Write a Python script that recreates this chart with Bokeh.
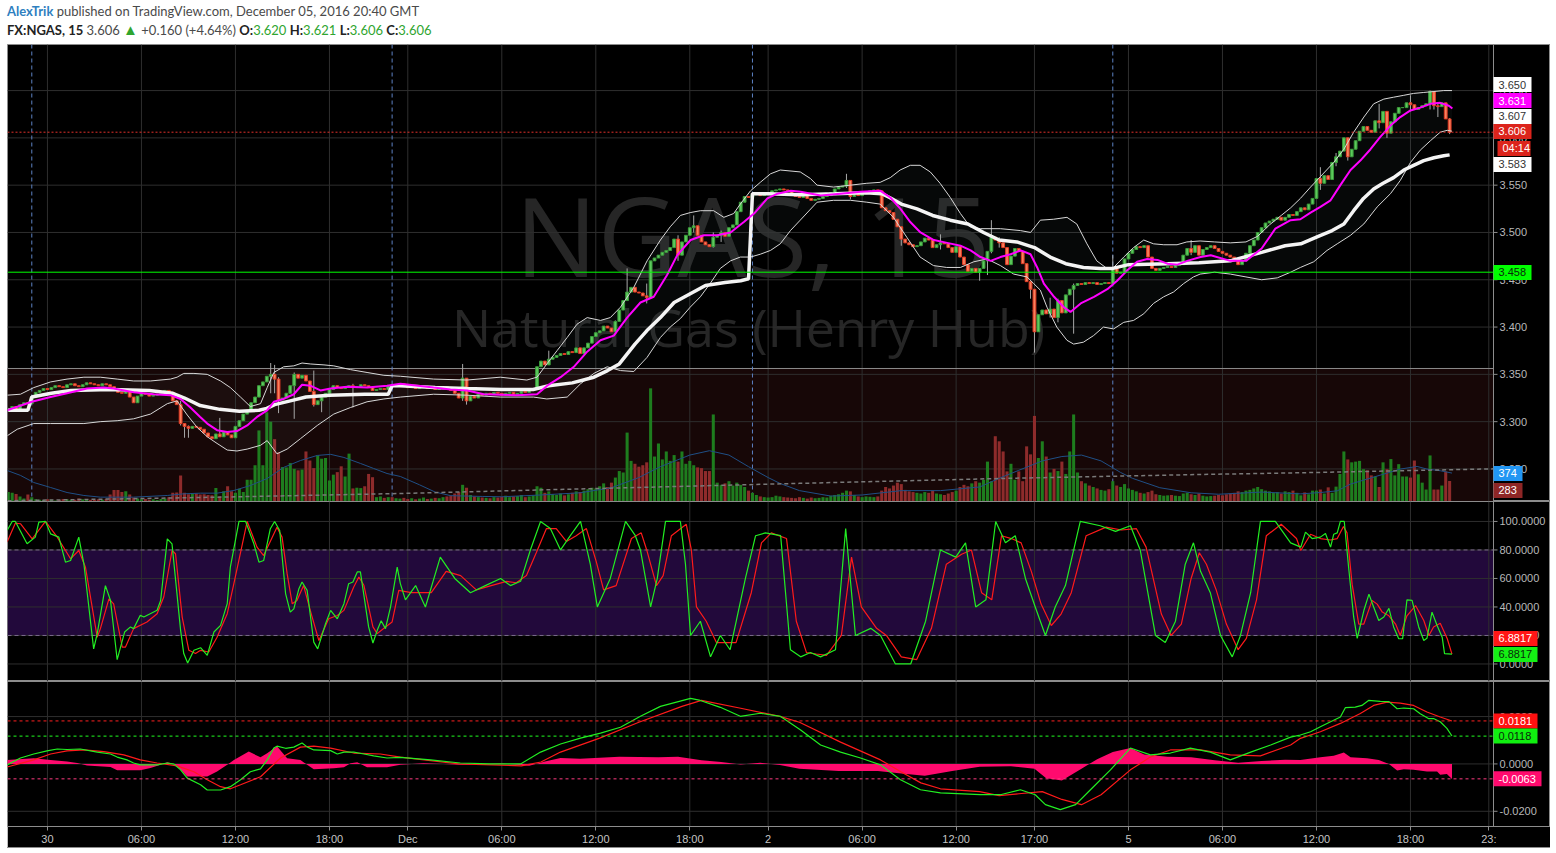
from bokeh.plotting import figure
from bokeh.models import (Range1d, FixedTicker, Span, BoxAnnotation, Label, ColumnDataSource, Div)
from bokeh.layouts import column
from bokeh.embed import file_html
from bokeh.resources import INLINE
from bokeh.core.properties import value

# ---------------- DATA (bar index: 15-min bars, 0 = Nov 29 23:00 session open) -------------
first_index = -6
first_open = 3.312
closes = [
 3.314, 3.316, 3.313, 3.318, 3.320, 3.319,
 3.326, 3.331, 3.333, 3.335, 3.334, 3.336, 3.338, 3.337, 3.336, 3.339,
 3.340, 3.338, 3.337, 3.339, 3.341, 3.340, 3.339, 3.338, 3.340, 3.339,
 3.337, 3.334, 3.331, 3.330, 3.332, 3.326, 3.320, 3.327, 3.330, 3.329,
 3.327, 3.328, 3.329, 3.331, 3.333, 3.331, 3.322, 3.318, 3.298, 3.295,
 3.293, 3.295, 3.294, 3.292, 3.288, 3.284, 3.282, 3.287, 3.284, 3.289,
 3.286, 3.283, 3.295, 3.301, 3.308, 3.312, 3.320, 3.326, 3.338, 3.342,
 3.348, 3.350, 3.345, 3.323, 3.325, 3.330, 3.338, 3.350, 3.346, 3.349,
 3.343, 3.332, 3.318, 3.322, 3.326, 3.330, 3.334, 3.338, 3.336, 3.335,
 3.337, 3.338, 3.336, 3.337, 3.339, 3.338, 3.336, 3.333, 3.334, 3.335,
 3.334, 3.338, 3.337, 3.339, 3.340, 3.338, 3.336, 3.337, 3.335, 3.336,
 3.337, 3.335, 3.336, 3.334, 3.335, 3.337, 3.336, 3.333, 3.330, 3.325,
 3.346, 3.322, 3.327, 3.325, 3.329, 3.328, 3.330, 3.329, 3.331, 3.330,
 3.328, 3.330, 3.331, 3.329, 3.330, 3.332, 3.331, 3.333, 3.334, 3.358,
 3.364, 3.360, 3.366, 3.368, 3.370, 3.372, 3.371, 3.374, 3.373, 3.378,
 3.372, 3.378, 3.383, 3.390, 3.394, 3.396, 3.401, 3.399, 3.395, 3.406,
 3.418, 3.428, 3.437, 3.442, 3.437, 3.436, 3.433, 3.431, 3.470, 3.473,
 3.476, 3.479, 3.481, 3.484, 3.493, 3.476, 3.490, 3.497, 3.505, 3.507,
 3.497, 3.490, 3.487, 3.485, 3.495, 3.497, 3.500, 3.496, 3.505, 3.508,
 3.522, 3.532, 3.538, 3.537, 3.540, 3.542, 3.539, 3.541, 3.542, 3.544,
 3.545, 3.546, 3.545, 3.544, 3.540, 3.538, 3.537, 3.539, 3.536, 3.534,
 3.535, 3.536, 3.538, 3.539, 3.542, 3.546, 3.548, 3.549, 3.555, 3.538,
 3.540, 3.539, 3.541, 3.543, 3.544, 3.545, 3.544, 3.526, 3.523, 3.521,
 3.514, 3.506, 3.493, 3.489, 3.487, 3.485, 3.486, 3.490, 3.494, 3.492,
 3.484, 3.487, 3.489, 3.488, 3.484, 3.479, 3.485, 3.474, 3.466, 3.459,
 3.462, 3.458, 3.462, 3.470, 3.480, 3.495, 3.492, 3.489, 3.484, 3.466,
 3.475, 3.483, 3.480, 3.467, 3.448, 3.440, 3.395, 3.413, 3.418, 3.414,
 3.419, 3.410, 3.428, 3.415, 3.434, 3.440, 3.444, 3.446, 3.445, 3.447,
 3.446, 3.447, 3.445, 3.446, 3.447, 3.446, 3.462, 3.457, 3.458, 3.472,
 3.478, 3.482, 3.485, 3.484, 3.486, 3.474, 3.462, 3.460, 3.462, 3.463,
 3.464, 3.463, 3.465, 3.466, 3.476, 3.483, 3.479, 3.486, 3.476, 3.482,
 3.484, 3.486, 3.483, 3.480, 3.478, 3.476, 3.474, 3.470, 3.466, 3.470,
 3.478, 3.486, 3.492, 3.500, 3.505, 3.510, 3.512, 3.514, 3.516, 3.513,
 3.516, 3.519, 3.518, 3.522, 3.526, 3.524, 3.530, 3.536, 3.557, 3.552,
 3.560, 3.556, 3.574, 3.580, 3.586, 3.600, 3.580, 3.588, 3.597, 3.607,
 3.612, 3.608, 3.606, 3.618, 3.616, 3.628, 3.605, 3.617, 3.626, 3.632,
 3.632, 3.637, 3.635, 3.630, 3.632, 3.634, 3.636, 3.649, 3.634, 3.633,
 3.637, 3.620, 3.606]

volumes = [
 130, 120, 105, 70, 40, 97,
 60, 30, 25, 20, 30, 25, 15, 20, 35, 30,
 20, 25, 40, 30, 35, 25, 20, 30, 25, 35,
 95, 160, 160, 130, 140, 95, 55, 40, 30, 35,
 25, 30, 20, 35, 40, 60, 120, 125, 360, 120,
 100, 105, 110, 95, 100, 90, 85, 185, 70, 140,
 210, 140, 120, 175, 130, 300, 300, 500, 980, 500,
 1230, 1100, 860, 680, 475, 470, 530, 450, 430, 440,
 690, 565, 460, 635, 590, 600, 290, 370, 405, 485,
 345, 660, 180, 190, 185, 210, 380, 335, 60, 70,
 50, 60, 60, 45, 40, 50, 35, 45, 30, 40,
 55, 35, 40, 50, 45, 60, 70, 80, 110, 130,
 230, 190, 90, 70, 60, 55, 50, 45, 60, 55,
 65, 80, 60, 70, 75, 90, 60, 70, 85, 210,
 190, 120, 140, 100, 90, 110, 85, 100, 120, 140,
 130, 150, 170, 190, 180, 210, 250, 200, 260, 330,
 420, 400, 950, 560, 520, 480, 500, 540, 1560, 620,
 800, 580, 690, 560, 640, 550, 690, 520, 560, 500,
 470, 460, 420, 420, 1200, 260, 230, 250, 280, 220,
 260, 230, 200, 150, 120, 90, 70, 60, 55, 60,
 80, 70, 60, 55, 50, 45, 60, 50, 40, 55,
 45, 50, 60, 55, 80, 90, 100, 120, 150, 140,
 90, 70, 60, 70, 65, 60, 70, 150, 200, 180,
 220, 260, 240, 160, 140, 130, 120, 110, 130, 120,
 150, 110, 100, 90, 110, 130, 150, 200, 230, 210,
 250, 280, 260, 300, 550, 280, 900, 830, 690, 415,
 520, 300, 415, 280, 760, 650, 1180, 600, 830, 620,
 400, 450, 420, 550, 380, 690, 1200, 400, 280, 250,
 220, 200, 180, 160, 150, 170, 280, 220, 200, 240,
 180, 160, 140, 120, 110, 130, 150, 100, 90, 80,
 85, 90, 80, 75, 110, 120, 100, 90, 110, 80,
 70, 75, 80, 90, 85, 100, 110, 120, 140, 130,
 150, 160, 180, 200, 170, 150, 140, 120, 130, 110,
 140, 130, 150, 120, 85, 125, 100, 150, 150, 165,
 110, 195, 120, 205, 380, 690, 580, 540, 550, 560,
 445, 430, 360, 345, 200, 540, 445, 585, 360, 515,
 345, 345, 330, 565, 375, 260, 165, 635, 165, 165,
 220, 415, 283]

# visible wicks: (bar index, high, low)
wicks = [(38, 3.322, 3.296), (39, 3.298, 3.283), (40, 3.296, 3.283), (48, 3.304, 3.284),
 (61, 3.362, 3.330), (62, 3.360, 3.330), (63, 3.347, 3.309), (67, 3.352, 3.303),
 (72, 3.354, 3.316), (74, 3.328, 3.310), (82, 3.340, 3.315), (110, 3.361, 3.322),
 (111, 3.346, 3.318), (132, 3.375, 3.360), (149, 3.407, 3.395), (152, 3.462, 3.428),
 (157, 3.446, 3.425), (165, 3.497, 3.470), (169, 3.518, 3.500), (174, 3.500, 3.484),
 (176, 3.502, 3.490), (208, 3.562, 3.547), (209, 3.555, 3.535), (222, 3.506, 3.486),
 (232, 3.498, 3.482), (242, 3.462, 3.449), (244, 3.470, 3.455), (245, 3.513, 3.478),
 (247, 3.495, 3.484), (255, 3.448, 3.430), (256, 3.440, 3.373), (260, 3.431, 3.410),
 (262, 3.430, 3.405), (266, 3.446, 3.393), (276, 3.476, 3.445), (296, 3.492, 3.476),
 (329, 3.569, 3.545), (333, 3.584, 3.570), (336, 3.600, 3.576), (344, 3.636, 3.610),
 (346, 3.628, 3.600), (352, 3.645, 3.628), (357, 3.650, 3.630), (358, 3.649, 3.630),
 (359, 3.637, 3.622), (362, 3.621, 3.604)]

# indicator lines: (bar index, value)
magenta_ma = [(-6.3, 3.312), (0, 3.321), (4.8, 3.326), (9, 3.330), (14.1, 3.335), (18.4, 3.336),
 (20.9, 3.335), (26, 3.331), (31.1, 3.329), (35.4, 3.328), (38, 3.324), (40.5, 3.315), (43, 3.305),
 (44.8, 3.298), (47.3, 3.291), (49.9, 3.289), (52.4, 3.290), (55, 3.296), (57.5, 3.305), (60.1, 3.312),
 (61.8, 3.321), (64.3, 3.324), (66.9, 3.329), (69, 3.339), (71.1, 3.338), (73.7, 3.333), (76.3, 3.335),
 (80.5, 3.337), (85.6, 3.336), (90.7, 3.338), (94.1, 3.340), (102.6, 3.336), (106.9, 3.334),
 (111.2, 3.333), (115.4, 3.329), (123.9, 3.328), (129, 3.329), (131.6, 3.338), (135, 3.347),
 (138.4, 3.358), (141.8, 3.374), (145.2, 3.386), (148.6, 3.391), (152, 3.410), (155.4, 3.426),
 (158.8, 3.432), (162.2, 3.455), (164.8, 3.476), (168.2, 3.492), (171.6, 3.497), (175, 3.497),
 (178.4, 3.500), (181.8, 3.511), (184.4, 3.520), (187.8, 3.536), (190.4, 3.541), (193.8, 3.544),
 (196.3, 3.543), (201.4, 3.539), (206.5, 3.541), (211.6, 3.543), (216.7, 3.544), (219.2, 3.537),
 (221.8, 3.525), (224.3, 3.511), (226.9, 3.500), (230.3, 3.492), (233.7, 3.489), (237.1, 3.486),
 (239.7, 3.481), (242.2, 3.474), (244.8, 3.470), (247.3, 3.474), (249.9, 3.477), (252.5, 3.481),
 (255, 3.477), (256.7, 3.463), (258.4, 3.446), (261, 3.432), (263.5, 3.421), (265.2, 3.416),
 (267.8, 3.425), (271.2, 3.432), (274.6, 3.440), (277.1, 3.449), (279.7, 3.460), (282.2, 3.469),
 (284.8, 3.472), (287.4, 3.471), (289.9, 3.467), (292.5, 3.466), (295, 3.470), (298.4, 3.474),
 (301, 3.476), (306, 3.470), (310, 3.470), (314, 3.483), (317.5, 3.504), (321.4, 3.513),
 (323.9, 3.514), (326.5, 3.521), (329, 3.527), (331.6, 3.534), (334.1, 3.550), (336.7, 3.566),
 (339.2, 3.576), (341.8, 3.588), (344.3, 3.601), (346.9, 3.613), (349.4, 3.622), (352, 3.629),
 (354.5, 3.632), (357.1, 3.636), (359.6, 3.637), (361.8, 3.634), (362.7, 3.631)]

bb_upper = [(-6.3, 3.328), (-2.9, 3.329), (0.5, 3.336), (4.8, 3.342), (9, 3.345), (13.3, 3.347),
 (17.5, 3.347), (21.8, 3.345), (26, 3.343), (30.3, 3.343), (35.4, 3.345), (37.1, 3.347),
 (38.8, 3.351), (41.4, 3.351), (44.8, 3.350), (48.2, 3.343), (50.7, 3.336), (53.3, 3.326),
 (55.8, 3.316), (58.4, 3.319), (60.1, 3.336), (61.8, 3.352), (64.3, 3.358), (66.9, 3.359),
 (69, 3.362), (71.1, 3.361), (74.6, 3.360), (77.1, 3.359), (81.4, 3.355), (85.6, 3.352),
 (89.9, 3.349), (94.1, 3.348), (102.6, 3.345), (111.1, 3.344), (119.6, 3.347), (126.4, 3.344),
 (129, 3.347), (131.5, 3.361), (134.1, 3.375), (136.7, 3.389), (139.2, 3.403), (141.8, 3.410),
 (145.2, 3.407), (147.7, 3.410), (150.3, 3.421), (153.7, 3.442), (157.1, 3.470), (160.5, 3.492),
 (163, 3.506), (165.6, 3.518), (168.1, 3.521), (170.7, 3.523), (174.1, 3.523), (176.7, 3.516),
 (179.2, 3.520), (180.9, 3.530), (183.5, 3.544), (186, 3.553), (188.6, 3.562), (191.1, 3.566),
 (196.2, 3.564), (198.8, 3.557), (200.5, 3.550), (204.7, 3.548), (209, 3.550), (213.2, 3.552),
 (216.6, 3.553), (219.2, 3.558), (221.7, 3.566), (224.3, 3.571), (226.8, 3.571), (229.4, 3.564),
 (231.9, 3.552), (234.5, 3.537), (237.1, 3.520), (239.6, 3.506), (242.2, 3.504), (247.3, 3.504),
 (252.4, 3.502), (255, 3.500), (257.5, 3.513), (260.9, 3.514), (264.3, 3.516), (266.8, 3.509),
 (269.4, 3.488), (271.9, 3.470), (274.5, 3.462), (276.2, 3.463), (278.8, 3.474), (281.3, 3.484),
 (283.9, 3.492), (286.4, 3.488), (289, 3.487), (292.4, 3.487), (294.9, 3.490), (298.3, 3.491),
 (302, 3.490), (306, 3.489), (310, 3.490), (313, 3.496), (316, 3.508), (319, 3.518),
 (321.4, 3.526), (323.9, 3.536), (326.5, 3.548), (329, 3.559), (332.4, 3.574), (335, 3.588),
 (337.5, 3.606), (340.1, 3.622), (342.6, 3.636), (345.2, 3.641), (347.7, 3.643), (350.3, 3.645),
 (352.8, 3.647), (355.4, 3.648), (358, 3.649), (360.5, 3.650), (362.6, 3.650)]

bb_lower = [(-6.3, 3.285), (-3.7, 3.292), (0.5, 3.298), (4.8, 3.298), (13.3, 3.298), (17.5, 3.300),
 (21.8, 3.301), (26, 3.303), (30.3, 3.308), (34.6, 3.319), (37.1, 3.322), (39.7, 3.307),
 (42.2, 3.294), (44.8, 3.284), (47.3, 3.277), (49.9, 3.270), (52.4, 3.269), (55, 3.271),
 (58.4, 3.275), (60.1, 3.280), (62.6, 3.266), (65.2, 3.271), (68.6, 3.282), (72.9, 3.296),
 (77.1, 3.308), (81.4, 3.315), (85.6, 3.321), (89.9, 3.324), (94.1, 3.326), (102.6, 3.329),
 (111.1, 3.328), (119.6, 3.326), (128.1, 3.326), (131.5, 3.324), (136.7, 3.326), (140.1, 3.340),
 (143.5, 3.351), (146.9, 3.358), (150.3, 3.354), (153.7, 3.353), (157.1, 3.368), (160.5, 3.389),
 (163, 3.400), (165.6, 3.409), (168.1, 3.421), (170.7, 3.432), (173.2, 3.446), (175.8, 3.462),
 (178.4, 3.470), (180.9, 3.474), (183.5, 3.474), (186, 3.477), (188.6, 3.481), (191.1, 3.488),
 (193.7, 3.502), (196.2, 3.513), (200.5, 3.532), (204.7, 3.534), (209, 3.534), (213.2, 3.532),
 (216.6, 3.530), (220, 3.516), (223.4, 3.495), (226.8, 3.474), (230.2, 3.465), (233.6, 3.463),
 (237.1, 3.463), (240.5, 3.469), (243.9, 3.472), (247.3, 3.465), (250.7, 3.456), (254.1, 3.453),
 (255.8, 3.446), (257.5, 3.439), (259.2, 3.421), (261.7, 3.400), (264.3, 3.386), (266, 3.382),
 (268.5, 3.384), (271.1, 3.391), (273.6, 3.400), (276.2, 3.398), (278.8, 3.405), (281.3, 3.407),
 (283.9, 3.414), (286.4, 3.425), (289, 3.432), (291.5, 3.437), (294.1, 3.446), (296.6, 3.453),
 (298.3, 3.456), (302, 3.458), (306, 3.456), (310, 3.453), (314, 3.450), (318, 3.452),
 (321.4, 3.458), (323.9, 3.463), (327.3, 3.469), (330.7, 3.481), (333.3, 3.488), (336.7, 3.497),
 (340.1, 3.509), (343.5, 3.527), (346.9, 3.541), (349.4, 3.555), (352, 3.574), (354.5, 3.587),
 (357.1, 3.597), (359.6, 3.606), (361.4, 3.608), (362.6, 3.607)]

vwap = [(-6, 3.312), (-1, 3.312), (0, 3.326), (5, 3.330), (10, 3.333), (20, 3.334), (30, 3.333),
 (36, 3.330), (39, 3.325), (43, 3.317), (48, 3.313), (53, 3.311), (58, 3.312), (60, 3.314),
 (62, 3.318), (66, 3.322), (70, 3.326), (76, 3.328), (85, 3.329), (91, 3.329),
 (92, 3.338), (94, 3.338), (103, 3.336), (111, 3.335), (120, 3.334), (128, 3.334), (132, 3.338),
 (138, 3.341), (143.5, 3.347), (147, 3.354), (150, 3.361), (154, 3.382), (157, 3.396),
 (160.5, 3.410), (164, 3.426), (168, 3.435), (172, 3.444), (177, 3.447), (181, 3.449), (183, 3.451),
 (184, 3.541), (188, 3.541), (196, 3.540), (205, 3.541), (213, 3.542), (217, 3.541), (219, 3.537),
 (222, 3.530), (226, 3.525), (230, 3.518), (234.5, 3.513), (239, 3.509), (243, 3.500),
 (247, 3.492), (251.5, 3.490), (256, 3.484), (260, 3.474), (264, 3.467), (268.5, 3.463),
 (272.8, 3.462), (275, 3.462),
 (276, 3.462), (280, 3.466), (290, 3.467), (298, 3.468), (306, 3.470), (314, 3.479), (320, 3.486),
 (324, 3.488), (328, 3.495), (332, 3.502), (335, 3.509), (337.5, 3.523), (340, 3.536),
 (342.6, 3.546), (345, 3.552), (347.7, 3.558), (350.3, 3.566), (352.8, 3.571), (355.4, 3.576),
 (358, 3.579), (360.5, 3.581), (362, 3.582)]

vol_ma = [(-6.3, 428), (-2.9, 360), (0.5, 262), (4.8, 193), (9, 124), (13.3, 83), (17.5, 60),
 (26, 60), (34.6, 83), (38.8, 106), (43.1, 115), (47.3, 115), (51.6, 152), (55.8, 220),
 (60.1, 317), (64.3, 470), (68.6, 565), (72.9, 635), (76.3, 650), (79.7, 607), (83.9, 525),
 (87.3, 455), (90.7, 386), (94.1, 345), (99, 230), (103, 130), (107, 80), (115, 70), (120, 65),
 (130, 90), (140, 120), (148, 190), (155, 330), (160.5, 480), (168, 640), (173, 700), (178, 640),
 (183, 480), (188, 330), (191, 250), (196, 150), (204, 75), (212, 90), (222, 150), (232, 150),
 (242, 200), (247, 320), (252, 430), (258, 560), (263, 620), (268, 640), (273, 560), (278, 400),
 (281, 320), (288, 190), (296, 120), (303, 100), (314, 130), (324, 105), (329, 124), (333.3, 147),
 (336.7, 240), (340.9, 309), (345.2, 378), (349.4, 447), (353.7, 483), (356.2, 447), (359.6, 424),
 (362.6, 392)]

vol_avg_long = [(-6.2, 10), (43, 55), (94, 110), (145, 180), (196, 250), (247, 317), (298, 372),
 (324, 396), (373.2, 450)]

stoch_k = [(-6.3, 93.7), (-5, 100), (-4.2, 100), (-1.2, 84.3), (0.9, 89), (1.8, 99.5), (3.5, 100),
 (4.8, 91.3), (6.9, 89), (8.6, 71.4), (9.9, 72.6), (12, 89), (13.3, 70.3), (15.8, 10.6),
 (16.7, 21.1), (18.8, 55), (20.1, 44.5), (21.8, 3), (23.7, 22.4), (25.2, 26), (26, 24.8),
 (27.7, 34.2), (28.6, 33), (32, 37.7), (32.9, 44.5), (34.6, 87.8), (35.8, 84.3), (38, 23.6),
 (38.8, 7.3), (39.8, 0.7), (41.4, 9.6), (43.1, 11.4), (44.8, 6.1), (46.5, 22.4), (48.2, 27.1),
 (49.9, 42.3), (50.7, 68), (52.9, 100), (54.6, 100), (56.7, 84.3), (58, 71.4), (59.2, 72.6),
 (60.9, 94.9), (62, 100), (63.3, 93.7), (64.8, 49.4), (66, 36.4), (66.9, 38.7), (68.2, 52.8),
 (69, 57.5), (70.3, 51.6), (72, 15.3), (73, 10.6), (75, 28.2), (76.3, 37.6), (78, 31.7),
 (79.7, 42.3), (80.9, 56.3), (82, 57.5), (83.1, 64.6), (83.9, 64.6), (86, 26), (87.1, 14.7),
 (88.2, 23.6), (89.2, 30.3), (90.3, 24.8), (91.6, 40), (93.3, 68), (94.1, 56.4),
 (95.4, 45), (98, 55), (100.5, 40), (104.3, 75), (108, 60), (112, 50), (115.8, 55), (119.7, 60),
 (122.2, 55), (124.8, 58), (127.3, 80), (129.9, 100), (132.4, 95), (135, 80), (137.5, 90),
 (140.1, 100), (142.6, 70), (144.4, 40), (147.7, 60), (151.6, 100), (154.1, 90), (155.4, 80),
 (158, 40), (159.7, 60), (161.8, 100), (165.6, 100), (166.9, 70), (168.2, 20), (170.7, 30),
 (173.3, 5), (175.8, 20), (178.3, 10), (182.2, 60), (184.8, 90), (187.3, 92), (191.2, 90),
 (193.7, 10), (196.3, 5), (198.8, 8), (201.4, 5), (205.2, 10), (207.8, 95), (210.3, 20),
 (214.2, 25), (216.7, 20), (220.5, 0), (224.4, 0), (228.2, 30), (232, 80), (235.9, 75),
 (238.4, 85), (241, 40), (243.6, 45), (246.1, 100), (248.6, 85), (251.1, 90), (253.7, 60),
 (256.2, 40), (258.8, 20), (261.3, 40), (263.9, 55), (267.7, 100), (272.8, 97), (276.7, 93),
 (280.5, 97), (283, 80), (286.9, 20), (289.4, 15), (292, 30), (294.5, 70), (296.6, 85),
 (298.4, 65), (300.9, 50), (303.5, 20), (306.5, 5), (308.6, 20), (311.2, 50), (313.7, 100),
 (317.5, 100), (321.4, 85), (324, 82), (325.2, 92.5), (326.9, 88), (329, 89), (330.3, 91.5),
 (331.6, 82), (332.4, 91), (333.3, 92), (334.1, 100), (335.1, 100), (336.2, 68), (337.5, 33),
 (338.4, 18), (339.2, 27), (340.1, 37.5), (341.4, 49), (342.6, 40), (343.9, 30.5), (345.2, 33),
 (346.5, 39), (347.7, 26), (349, 17.7), (350, 17.7), (351.1, 45), (352.4, 44.6), (354.1, 26),
 (355.4, 16.5), (356.2, 18), (357.5, 36.4), (358.8, 27), (360.1, 18.8), (360.7, 7.2), (362.6, 6.9)]

stoch_d = [(-6.3, 85.5), (-4.2, 98.8), (-2.9, 98.4), (0.1, 87.8), (3.5, 100), (6.5, 89), (9.9, 73.8),
 (12, 79.6), (13.7, 67.9), (16.7, 18.8), (17.5, 24.6), (19.7, 45.7), (20.9, 42.2), (23.1, 11.8),
 (23.9, 11.8), (26, 24.8), (29.4, 29.5), (32, 35.3), (33.7, 47), (35.8, 79.6), (36.7, 77.3),
 (38.4, 32.9), (40.1, 9.6), (41.8, 7.3), (43.1, 9.6), (45.2, 8.4), (47.3, 18.8), (49.9, 35.3),
 (51.6, 56.4), (55, 100), (57.5, 82), (59.2, 76.1), (62.6, 96), (63.9, 89), (65.2, 63.2),
 (66.5, 42.2), (67.7, 44.5), (69.4, 55), (71.1, 37.6), (73.3, 16.4), (75.8, 31.7), (78, 34),
 (79.7, 37.6), (82.2, 54), (83.5, 61), (84.8, 55.2), (87.1, 26), (88.2, 21.3), (90.3, 26),
 (92, 29.5), (93.7, 51.7),
 (96.9, 50), (99.5, 50), (102, 50), (105.8, 65), (109.5, 62), (113.5, 52), (117.3, 55),
 (121.2, 58), (123.7, 57), (126.3, 62), (128.8, 78), (131.4, 95), (133.9, 95), (136.5, 86),
 (139, 90), (141.6, 95), (144.1, 72), (146, 52), (149.2, 55), (153.1, 88), (155.6, 92),
 (157, 80), (159.5, 55), (161.2, 62), (163.3, 90), (167.1, 98), (168.4, 80), (169.7, 40),
 (172.2, 30), (174.8, 15), (177.3, 15), (179.8, 15), (183.7, 50), (186.3, 85), (188.8, 92),
 (192.7, 88), (195.2, 30), (197.8, 8), (200.3, 7), (202.9, 6), (206.7, 20), (209.3, 75),
 (211.8, 40), (215.7, 25), (218.2, 20), (222, 5), (225.9, 3), (229.7, 25), (233.5, 70),
 (237.4, 77), (239.9, 80), (242.5, 50), (245.1, 45), (247.6, 90), (250.1, 88), (252.6, 85),
 (255.2, 65), (257.7, 42), (260.3, 27), (262.8, 35), (265.4, 50), (269.2, 90), (274.3, 96),
 (278.2, 94), (282, 95), (284.5, 82), (288.4, 35), (290.9, 20), (293.5, 28), (296, 60),
 (298.1, 78), (299.9, 70), (302.4, 52), (305, 28), (308, 10), (310.1, 18), (312.7, 45),
 (315.2, 90), (319, 98), (322.9, 88),
 (324, 79.6), (326.5, 91), (329, 88), (331.6, 87), (333.3, 88), (334.9, 96.5), (335.8, 92),
 (337.1, 56), (338.8, 28), (340.1, 28), (342.2, 44.6), (343.5, 42), (344.8, 36.4), (346.5, 33.8),
 (348.2, 28), (349.4, 20), (351.1, 33.8), (353.3, 41), (355.4, 30.5), (356.7, 20), (357.9, 26),
 (359.6, 28.6), (361.4, 17.7), (362.6, 6.9)]

macd_line = [(-6.3, -0.0004), (-2.9, 0.0025), (0.5, 0.0042), (3.9, 0.0055), (6.5, 0.0063),
 (9, 0.0061), (12.4, 0.0063), (16.7, 0.0050), (20.1, 0.0042), (21.8, 0.0029), (24.3, 0.0017),
 (26, 0.0004), (27.7, -0.0004), (32, -0.0004), (34.6, 0.0004), (36.3, -0.0001), (38, -0.0025),
 (39.7, -0.0060), (43.1, -0.0088), (44.8, -0.0110), (48.2, -0.0110), (50.7, -0.0096),
 (53.3, -0.0067), (55.8, -0.0033), (58.4, -0.0021), (60.1, 0.0017), (61.8, 0.0067),
 (62.6, 0.0075), (64.8, 0.0066), (66.9, 0.0071), (69, 0.0088), (70.3, 0.0072), (72, 0.0059),
 (76.3, 0.0056), (78, 0.0042), (79.7, 0.0050), (82.2, 0.0050), (84.8, 0.0042), (87.3, 0.0034),
 (90.7, 0.0025), (94.1, 0.0028), (101.8, 0.0017), (109.4, 0.0004), (117.1, 0.0), (124.8, 0.0),
 (129.9, 0.0050), (135, 0.0084), (140.1, 0.0109), (145.2, 0.0130), (150.3, 0.0155),
 (155.4, 0.0201), (160.5, 0.0243), (168.2, 0.0277), (170.7, 0.0268), (175.8, 0.0239),
 (180.9, 0.0201), (186, 0.0214), (191.1, 0.0201), (196.3, 0.0143), (201.4, 0.0080),
 (206.5, 0.0050), (211.6, 0.0025), (216.7, -0.0004), (221.8, -0.0067), (226.9, -0.0109),
 (232, -0.0122), (242.2, -0.0130), (247.3, -0.0130), (252.4, -0.0109), (256.2, -0.0130),
 (258.8, -0.0172), (262.6, -0.0193), (266.5, -0.0172), (270.3, -0.0109), (275.4, -0.0025),
 (280.5, 0.0067), (285.6, 0.0038), (290.7, 0.0046), (295.8, 0.0067), (300.9, 0.0050),
 (306, 0.0017), (311.2, 0.0050), (316.3, 0.0080), (321.4, 0.0113), (323.9, 0.0122),
 (326.5, 0.0136), (329, 0.0157), (331.6, 0.0178), (334.1, 0.0198), (335.4, 0.0238),
 (337.9, 0.0240), (339.6, 0.0247), (341.3, 0.0268), (344.3, 0.0264), (346.5, 0.0263),
 (348.6, 0.0233), (350.3, 0.0236), (352.8, 0.0233), (354.5, 0.0212), (356.7, 0.0191),
 (358, 0.0191), (359.6, 0.0178), (361.3, 0.0150), (362.6, 0.0118)]

macd_signal = [(-6.3, -0.0013), (0.5, 0.0017), (4.8, 0.0042), (9, 0.0055), (13.3, 0.0059),
 (18.4, 0.0052), (23.5, 0.0038), (27.7, 0.0017), (32, 0.0004), (37.1, -0.0008), (41.4, -0.0033),
 (44.8, -0.0067), (48.2, -0.0096), (50.7, -0.0105), (53.3, -0.0088), (58.4, -0.0054),
 (63.5, 0.0025), (68.6, 0.0071), (72, 0.0075), (76.3, 0.0067), (82.2, 0.0046), (89, 0.0042),
 (94.1, 0.0029), (109, 0.0), (125, -0.0008), (130, 0.0008), (135, 0.0050), (145, 0.0109),
 (155, 0.0176), (166, 0.0243), (171, 0.0268), (181, 0.0235), (191, 0.0201), (196, 0.0176),
 (206.5, 0.0092), (216.7, 0.0017), (222, -0.0034), (227, -0.0080), (232, -0.0105),
 (242, -0.0117), (247, -0.0134), (252, -0.0126), (258, -0.0117), (263, -0.0150),
 (268, -0.0172), (273, -0.0130), (280.5, -0.0025), (285.6, 0.0029), (290.7, 0.0059),
 (298.4, 0.0059), (306, 0.0038), (313.7, 0.0034), (321.4, 0.0080), (323.9, 0.0108),
 (329, 0.0136), (334.1, 0.0171), (339.2, 0.0213), (342.6, 0.0247), (346, 0.0261),
 (349.4, 0.0257), (352.8, 0.0247), (356.2, 0.0219), (359.6, 0.0198), (362.6, 0.0181)]

macd_hist = [(-6.3, 0.0017), (0.5, 0.0024), (4.8, 0.0017), (9, 0.0010), (11.6, 0.0004),
 (14.1, -0.0007), (20.1, -0.0013), (21.8, -0.0027), (27.7, -0.0027), (30.3, -0.0017),
 (32.9, -0.0003), (34.6, 0.0007), (36.3, 0.0), (38, -0.0025), (39.7, -0.0053), (44.8, -0.0053),
 (47.3, -0.0032), (49.9, -0.0004), (51.6, 0.0017), (55.4, 0.0052), (58.4, 0.0028), (60.1, 0.0045),
 (62.6, 0.0075), (65.2, 0.0024), (68.6, 0.0017), (70.3, -0.0004), (72, -0.0022), (77.1, -0.0018),
 (79.7, -0.0014), (81.4, 0.0003), (83.1, 0.0007), (85.6, -0.0014), (90.7, -0.0014),
 (94.1, -0.0004), (100, 0.0003), (110, -0.0004), (120, 0.0002), (127, -0.0008), (131, 0.0010),
 (135, 0.0025), (140, 0.0022), (150, 0.0030), (160, 0.0028), (165, 0.0030), (171, 0.0015),
 (176, 0.0008), (181, -0.0002), (186, 0.0005), (191, -0.0005), (196, -0.0020), (206, -0.0030),
 (216, -0.0030), (222, -0.0040), (228, -0.0050), (235, -0.0030), (242, -0.0012), (250, -0.0010),
 (256, -0.0020), (259, -0.0060), (263, -0.0070), (268, -0.0020), (272, 0.0020), (276, 0.0050),
 (280.5, 0.0067), (284, 0.0040), (290, 0.0030), (296, 0.0028), (302, 0.0015), (308, 0.0005),
 (314, 0.0012), (320, 0.0018), (323.9, 0.0017), (329, 0.0028), (332.4, 0.0034), (335, 0.0048),
 (336.7, 0.0028), (340.9, 0.0024), (343.9, 0.0017), (346.5, 0.0), (348.6, -0.0028),
 (350.3, -0.0022), (352.8, -0.0025), (356.2, -0.0032), (358.8, -0.0032), (359.6, -0.0046),
 (361.3, -0.0043), (362.6, -0.0064)]

session_starts = [0, 92, 184, 276]
support_level = 3.458
last_price = 3.606
zone_top = 3.3562

x_ticks = [4, 28, 52, 76, 96, 120, 144, 168, 188, 212, 236, 256, 280, 304, 328, 352, 372]
x_tick_labels = ["30", "06:00", "12:00", "18:00", "Dec", "06:00", "12:00", "18:00", "2",
                 "06:00", "12:00", "17:00", "5", "06:00", "12:00", "18:00", "23:"]
price_ticks = [3.25, 3.30, 3.35, 3.40, 3.45, 3.50, 3.55, 3.60, 3.65]
stoch_ticks = [0, 20, 40, 60, 80, 100]
macd_ticks = [-0.02, 0.0, 0.02]

# price-scale value tags: (text, value, background, text colour, box width px, x offset px)
price_tags = [("3.650", 3.6564, "#ffffff", "#333333", 38, 0), ("3.631", 3.6395, "#ff00ff", "#ffffff", 38, 0),
              ("3.607", 3.6226, "#ffffff", "#333333", 38, 0), ("3.606", 3.6068, "#dc241c", "#ffffff", 38, 0),
              ("04:14", 3.5888, "#dc241c", "#ffffff", 33, 4), ("3.583", 3.5719, "#ffffff", "#333333", 38, 0),
              ("3.458", 3.4577, "#00ff00", "#0a2a0a", 38, 0)]
volume_tags = [("374", 386, "#2196f3", "#ffffff", 29, 0), ("283", 152, "#8e2626", "#ffffff", 29, 0)]
stoch_tags = [("6.8817", 17.9, "#ff1616", "#ffffff", 44, 0), ("6.8817", 6.7, "#14f014", "#0a2a0a", 44, 0)]
macd_tags = [("0.0181", 0.01815, "#ff1010", "#ffffff", 44, 0), ("0.0118", 0.01174, "#10f010", "#0a2a0a", 44, 0),
             ("-0.0063", -0.0063, "#ff0a6e", "#ffffff", 48, 0)]

# ---------------- BUILD -------------------------------------------------------------------
W = 1543                      # whole chart width (7 .. 1550 px)
X0 = -6.2                     # left edge (bar index)
AXX = 373.2                   # price-scale boundary (bar index)
PXI = 1486.0 / (AXX - X0)     # pixels per bar
X1 = X0 + W / PXI
xr = Range1d(X0, X1)
AX = "#8c8c8c"
GRID = "#2e2e2e"
FONT = "Liberation Sans"
LBL = "#b8b8b8"

idx = list(range(first_index, first_index + len(closes)))
opens = [first_open] + closes[:-1]
highs = [max(o, c) for o, c in zip(opens, closes)]
lows = [min(o, c) for o, c in zip(opens, closes)]
for (i, h, l) in wicks:
    k = i - first_index
    highs[k] = max(highs[k], h)
    lows[k] = min(lows[k], l)
up = [c >= o for o, c in zip(opens, closes)]

src = ColumnDataSource(dict(
    x=idx, open=opens, close=closes, high=highs, low=lows,
    top=[max(o, c) for o, c in zip(opens, closes)],
    bottom=[min(o, c) for o, c in zip(opens, closes)],
    fill=["#5ccb5c" if u else "#f7825e" for u in up],
    line=["#3a9a3a" if u else "#e23a24" for u in up],
    vol=volumes,
    vcol=["#1e7d1e" if u else "#8e2b2b" for u in up],
))


def unzip(pairs):
    return [a for a, b in pairs], [b for a, b in pairs]


def base_fig(h, yr, xaxis=False):
    p = figure(width=W, height=h, x_range=xr, y_range=yr, output_backend="svg",
               toolbar_location=None, tools="",
               x_axis_location="below" if xaxis else None, y_axis_location=None,
               min_border_left=0, min_border_top=0, min_border_bottom=0, min_border_right=0)
    p.background_fill_color = "black"
    p.border_fill_color = "black"
    p.outline_line_color = AX
    p.outline_line_width = 1
    p.xgrid.visible = False
    p.ygrid.visible = False
    return p


def price_scale(p, yr, ticks, labels):
    """grid, scale line, tick marks and tick labels of a pane's right-hand price scale"""
    n = len(x_ticks)
    p.segment(x0=x_ticks, x1=x_ticks, y0=[yr.start] * n, y1=[yr.end] * n,
              line_color=GRID, line_width=1, level="underlay")
    m = len(ticks)
    p.segment(x0=[X0] * m, x1=[AXX] * m, y0=ticks, y1=ticks, line_color=GRID, line_width=1,
              level="underlay")
    p.segment(x0=[AXX], x1=[AXX], y0=[yr.start], y1=[yr.end], line_color=AX, line_width=1)
    p.segment(x0=[AXX] * m, x1=[AXX + 4 / PXI] * m, y0=ticks, y1=ticks, line_color=AX, line_width=1)
    p.text(x=[AXX + 6 / PXI] * m, y=ticks, text=labels, text_font=value(FONT),
           text_font_size="11px", text_color=LBL, text_align="left", text_baseline="middle")


def draw_tags(p, tags, y_range_name="default"):
    for t, v, bg, fg, w, dxp in tags:
        left = AXX + dxp / PXI
        p.rect(x=[left + (w / 2) / PXI], y=[v], width=[w], height=[15], width_units="screen",
               height_units="screen", fill_color=bg, line_color=None, y_range_name=y_range_name)
        p.text(x=[left + 5 / PXI], y=[v], text=[t], text_font=value(FONT), text_font_size="11px",
               text_color=fg, text_align="left", text_baseline="middle", y_range_name=y_range_name)


def hline(p, y, color, dash="solid", width=1):
    p.segment(x0=[X0], x1=[AXX], y0=[y], y1=[y], line_color=color, line_width=width, line_dash=dash)


# ---- main price pane ----
yr1 = Range1d(3.2156, 3.6987)
p1 = base_fig(457, yr1)
p1.extra_y_ranges = {"vol": Range1d(0, 6300)}

p1.add_layout(BoxAnnotation(top=zone_top, right=AXX, fill_color="#170707", fill_alpha=1.0,
                            line_alpha=0, level="image"))
p1.add_layout(Label(x=184, y=3.4979, text="NGAS, 15", text_font="Open Sans",
                    text_font_size="110px", text_color="#262626", text_align="center",
                    text_baseline="middle", level="image"))
p1.add_layout(Label(x=183, y=3.4006, text="Natural Gas (Henry Hub)", text_font="Open Sans",
                    text_font_size="52px", text_color="#262626", text_align="center",
                    text_baseline="middle", level="image"))
price_scale(p1, yr1, price_ticks, [f"{t:.3f}" for t in price_ticks])
p1.segment(x0=[X0], x1=[AXX], y0=[zone_top], y1=[zone_top], line_color="#8a8a8a", line_width=1,
           level="underlay")
for s in session_starts:
    p1.add_layout(Span(location=s, dimension="height", line_color="#5d82c4", line_width=1,
                       line_dash="4 3", level="underlay"))

# volume overlay
p1.vbar(x="x", width=0.78, top="vol", bottom=0, source=src, fill_color="vcol",
        line_color=None, y_range_name="vol")
vx, vy = unzip(vol_ma)
p1.line(vx, vy, line_color="#1f4f86", line_width=1, y_range_name="vol")
gx, gy = unzip(vol_avg_long)
p1.line(gx, gy, line_color="#7a7a7a", line_width=1.5, line_dash="4 3", y_range_name="vol")

# bollinger fill
ux, uy = unzip(bb_upper)
lx, ly = unzip(bb_lower)
p1.patch(ux + lx[::-1], uy + ly[::-1], fill_color="#a8e8e8", fill_alpha=0.035, line_color=None)

# candles
p1.segment(x0="x", x1="x", y0="high", y1="low", source=src, line_color="#a8a8a8", line_width=1)
p1.vbar(x="x", width=0.72, top="top", bottom="bottom", source=src, fill_color="fill",
        line_color="line", line_width=1)

# overlays
p1.line(ux, uy, line_color="#d8d8d8", line_width=1)
p1.line(lx, ly, line_color="#d8d8d8", line_width=1)
wx, wy = unzip(vwap)
p1.line(wx, wy, line_color="#f4f4f4", line_width=3.5)
mx, my = unzip(magenta_ma)
p1.line(mx, my, line_color="#ff00ff", line_width=2)

hline(p1, support_level, "#00ff00")
hline(p1, last_price, "#e0302a", dash="2 2")
draw_tags(p1, price_tags)
draw_tags(p1, volume_tags, y_range_name="vol")

# ---- stochastic pane ----
yr2 = Range1d(-12.3, 114.0)
p2 = base_fig(180, yr2)
p2.add_layout(BoxAnnotation(bottom=20, top=80, right=AXX, fill_color="#22093b", fill_alpha=1.0,
                            line_alpha=0, level="image"))
price_scale(p2, yr2, stoch_ticks, [f"{t:.4f}" for t in stoch_ticks])
for lvl in (20, 80):
    hline(p2, lvl, "#7b6a8e", dash="4 3")
kx, ky = unzip(stoch_k)
dx_, dy_ = unzip(stoch_d)
p2.line(dx_, dy_, line_color="#ff1a1a", line_width=1.2)
p2.line(kx, ky, line_color="#22ee22", line_width=1.2)
draw_tags(p2, stoch_tags)

# ---- MACD pane ----
yr3 = Range1d(-0.02642, 0.0348)
p3 = base_fig(166, yr3, xaxis=True)
xa = p3.xaxis[0]
xa.ticker = FixedTicker(ticks=x_ticks)
xa.major_label_overrides = {t: l for t, l in zip(x_ticks, x_tick_labels)}
xa.axis_line_color = AX
xa.major_tick_line_color = AX
xa.minor_tick_line_color = None
xa.major_tick_out = 4
xa.major_tick_in = 0
xa.major_label_standoff = 2
xa.major_label_text_color = "#c4c4c4"
xa.major_label_text_font = FONT
xa.major_label_text_font_size = "11px"
price_scale(p3, yr3, macd_ticks, [f"{t:.4f}" for t in macd_ticks])

hx, hy = unzip(macd_hist)
p3.varea(x=hx, y1=[0.0] * len(hx), y2=hy, fill_color="#ff0a6e", fill_alpha=1.0)
sgx, sgy = unzip(macd_signal)
p3.line(sgx, sgy, line_color="#ff1a1a", line_width=1.2)
mcx, mcy = unzip(macd_line)
p3.line(mcx, mcy, line_color="#22ee22", line_width=1.2)
hline(p3, 0.01815, "#ff2020", dash="3 3")
hline(p3, 0.01174, "#20ff20", dash="3 3")
hline(p3, -0.0063, "#ff3a80", dash="3 3")
draw_tags(p3, macd_tags)

# ---- header ----
G = "#2fa52f"
header_html = (
    "<div style=\"font-family:Lato,'Liberation Sans',sans-serif;font-size:13px;color:#4a4a4a;"
    "line-height:18px;position:relative;top:2px;left:0px;white-space:nowrap\">"
    "<span style='color:#2f7fbf;font-weight:bold'>AlexTrik</span> published on TradingView.com, "
    "December 05, 2016 20:40 GMT<br>"
    "<span style='font-weight:bold;color:#222'>FX:NGAS, 15</span> 3.606 "
    f"<span style='color:{G};font-size:15px'>&#9650;</span> +0.160 (+4.64%) "
    f"<b style='color:#222'>O:</b><span style='color:{G}'>3.620</span> "
    f"<b style='color:#222'>H:</b><span style='color:{G}'>3.621</span> "
    f"<b style='color:#222'>L:</b><span style='color:{G}'>3.606</span> "
    f"<b style='color:#222'>C:</b><span style='color:{G}'>3.606</span></div>"
)
header = Div(text=header_html, width=W, height=44, margin=(0, 0, 0, 0))
bottom_rule = Div(text="", width=W, height=1, margin=(0, 0, 0, 0),
                  styles={"background-color": AX})

layout = column(header, p1, p2, p3, bottom_rule, spacing=0, margin=(0, 0, 0, 7))
open("out.html", "w").write(file_html(layout, INLINE))
